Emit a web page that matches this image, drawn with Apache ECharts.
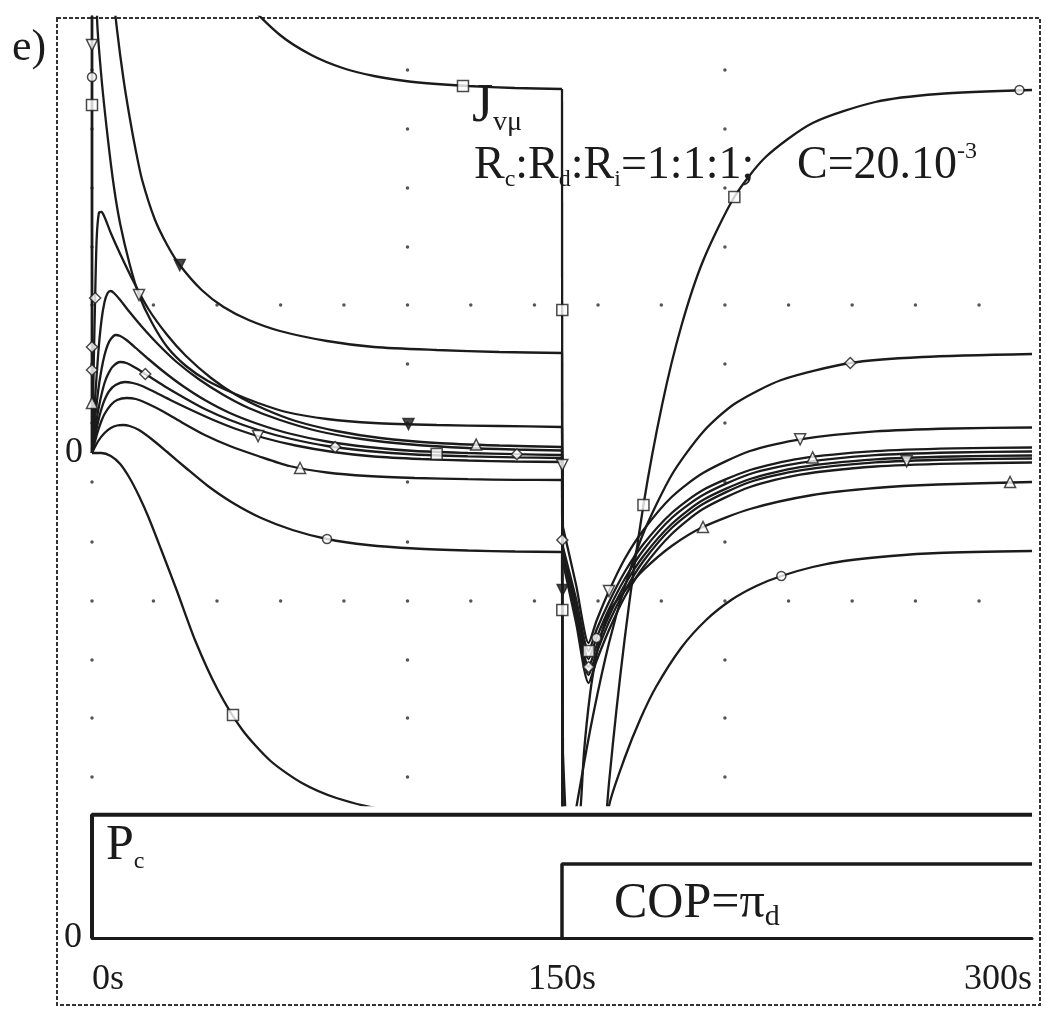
<!DOCTYPE html>
<html>
<head>
<meta charset="utf-8">
<title>e) Jvμ</title>
<script src="https://cdn.jsdelivr.net/npm/echarts@6/dist/echarts.min.js"></script>
<style>
  html, body { margin: 0; padding: 0; background: #fff; }
  #chart { width: 1046px; height: 1009px; }
</style>
</head>
<body>
<div id="chart"></div>
<script>
// dotted reference grid (time in s, response in plot units)
const dotCols = [0, 19.6, 39.9, 60.2, 80.4, 100.7, 120.9, 141.2, 161.5, 181.7, 202.0, 222.3, 242.6, 262.8, 283.1]
const dotRows = [38.3, 32.4, 26.5, 20.6, 14.8, 8.9, 3.0, -2.9, -8.9, -14.8, -20.7, -26.5, -32.4]
const majorCols = [0, 100.7, 202.0]
const majorRows = [14.8, -14.8]

// J_vμ responses, [t, value]; Pc switched on at 0 s, COP = πd at 150 s
const jTop = [[0,0],[0,200],[20,69.3],[30,57.5],[40,49.8],[50,44.9],[60,41.8],[70,39.8],[80,38.5],[90,37.7],[100,37.2],[110,36.9],[120,36.7],[135,36.5],[150,36.4],
  [150.2,-60],[160,-51.2],[165,-33.0],[170,-18.6],[176,-5.2],[182,4.9],[188,12.6],[195,19.2],[205,25.6],[215,29.6],[230,33.0],[250,35.1],[270,35.9],[300,36.3]]
const jHigh = [[0,0],[0,200],[2,67],[4,56],[6,48.3],[8,42.3],[10,37.5],[12,33.6],[14,30.2],[16,27.3],[20,23.4],[24,20.8],[28,18.8],[35,16.3],[42,14.6],[50,13.3],[60,12.2],[75,11.2],[90,10.6],[110,10.3],[130,10.1],[150,10.0],
  [150.2,-60],[153,-38.9],[156,-32.9],[160,-26.1],[165,-19.0],[170,-13.4],[176,-8.0],[185,-2.2],[195,2.1],[205,4.9],[220,7.3],[242,9.0],[265,9.6],[300,9.9]]
const jMid = [[0,0],[0,200],[1,70],[1.6,43.6],[3,37.6],[5,31.6],[7,26.6],[9,22.9],[12,18.9],[15,15.8],[19,13.1],[24,10.6],[30,8.7],[37,7.2],[45,6.0],[53,5.0],[62,4.1],[75,3.4],[90,3.0],[110,2.8],[130,2.7],[150,2.6],
  [150.3,-7.4],[154.5,-13.2],[158.5,-19],[161,-16.8],[165,-13.8],[170,-10.6],[176,-7.7],[185,-4.4],[195,-2.0],[210,0.2],[226,1.37],[250,2.16],[275,2.45],[300,2.55]]
const jBump1 = [[0,0],[0.5,8],[1,15.5],[1.5,21.5],[2.2,24.0],[3,24.1],[4,23.6],[6,22.0],[9,19.9],[13,17.3],[18,14.4],[24,11.8],[30,9.7],[38,7.5],[46,5.8],[55,4.4],[65,3.2],[78,2.2],[92,1.5],[110,1.0],[130,0.75],[150,0.6],
  [150.3,-9.4],[154.5,-14.6],[158.5,-19.8],[161,-17.7],[165,-14.9],[170,-11.9],[176,-9.1],[185,-6.0],[195,-3.7],[210,-1.7],[226,-0.56],[250,0.18],[275,0.46],[300,0.55]]
const jBump2 = [[0,0],[1,5.5],[2,10],[3,13.2],[4,15.1],[5,16.0],[6,16.2],[7,16.0],[9,15.3],[12,14.1],[16,12.6],[21,10.9],[27,9.1],[34,7.4],[42,5.8],[50,4.5],[60,3.3],[72,2.2],[86,1.4],[102,0.85],[120,0.5],[135,0.35],[150,0.25],
  [150.3,-9.8],[154.5,-15.2],[158.5,-20.6],[161,-18.5],[165,-15.6],[170,-12.6],[176,-9.7],[185,-6.5],[195,-4.2],[210,-2.1],[226,-0.99],[250,-0.22],[275,0.05],[300,0.15]]
const jBump3 = [[0,0],[1,3.5],[2,6.3],[3,8.3],[4,9.8],[5,10.8],[6,11.4],[7.5,11.8],[9,11.7],[11,11.3],[14,10.5],[18,9.4],[23,8.1],[29,6.7],[36,5.3],[44,4.0],[53,2.9],[63,1.95],[75,1.15],[88,0.6],[103,0.2],[120,0],[135,-0.12],[150,-0.2],
  [150.3,-10.2],[154.5,-15.8],[158.5,-21.4],[161,-19.3],[165,-16.3],[170,-13.2],[176,-10.3],[185,-7.1],[195,-4.7],[210,-2.6],[226,-1.41],[250,-0.63],[275,-0.35],[300,-0.25]]
const jBump4 = [[0,0],[1,2.3],[2,4.3],[3,5.8],[4,7.0],[5,7.8],[6.5,8.6],[9,9.1],[11,9.0],[14,8.5],[18,7.7],[23,6.7],[29,5.6],[36,4.4],[44,3.3],[53,2.3],[63,1.45],[75,0.7],[88,0.2],[103,-0.15],[120,-0.33],[135,-0.43],[150,-0.5],
  [150.3,-10.5],[154.5,-16.4],[158.5,-22.2],[161,-20.0],[165,-16.9],[170,-13.8],[176,-10.8],[185,-7.5],[195,-5.1],[210,-2.9],[226,-1.74],[250,-0.94],[275,-0.65],[300,-0.55]]
const jBump5 = [[0,0],[1,1.7],[2,3.2],[3,4.4],[4,5.3],[5.5,6.2],[7.5,6.8],[10.5,7.1],[13,7.0],[16,6.7],[20,6.1],[25,5.3],[31,4.4],[38,3.4],[46,2.4],[55,1.5],[65,0.75],[77,0.1],[90,-0.35],[105,-0.6],[120,-0.75],[135,-0.85],[150,-0.9],
  [150.3,-10.9],[154.5,-17.0],[158.5,-23],[161,-20.8],[165,-17.7],[170,-14.4],[176,-11.4],[185,-8.1],[195,-5.6],[210,-3.4],[226,-2.16],[250,-1.35],[275,-1.06],[300,-0.95]]
const jLow = [[0,0],[1,1.2],[2,2.3],[3,3.2],[4,3.9],[6,4.8],[8,5.3],[11,5.5],[14,5.4],[18,4.9],[23,4.1],[29,3.0],[36,1.8],[44,0.7],[53,-0.3],[63,-1.3],[75,-1.95],[88,-2.3],[103,-2.5],[120,-2.62],[135,-2.68],[150,-2.7],
  [150.3,-30],[153,-45],[156,-35.2],[157,-30],[159,-24],[161,-20.2],[163,-17.6],[165.3,-15.7],[170,-13.8],[176,-11.7],[185,-9.3],[195,-7.4],[210,-5.6],[230,-4.2],[250,-3.5],[270,-3.15],[300,-2.9]]
const jLower = [[0,0],[2,1.2],[4,2.0],[6,2.5],[8,2.75],[10,2.8],[12,2.7],[15,2.3],[19,1.4],[24,0.1],[30,-1.5],[37,-3.3],[45,-5.0],[54,-6.5],[64,-7.7],[75,-8.6],[88,-9.2],[103,-9.55],[120,-9.75],[135,-9.85],[150,-9.9],
  [150.2,-40],[158,-50],[165,-35.3],[170,-30.5],[175,-26.6],[180,-23.4],[188,-19.5],[196,-16.7],[204,-14.7],[212,-13.3],[220,-12.3],[230,-11.4],[240,-10.8],[255,-10.3],[270,-10.0],[300,-9.8]]
const jBottom = [[0,0],[3,0],[6,-0.3],[9,-1.1],[12,-2.5],[15,-4.3],[18,-6.4],[22,-9.6],[27,-13.7],[33,-18.8],[40,-23.6],[48,-27.7],[57,-30.8],[67,-33.0],[78,-34.5],[92,-35.6],[110,-36.3],[130,-36.7],[150,-37]]

// marker positions along the curves
const markSquare = [[0,34.8],[118.4,36.7],[110,-0.1],[45,-26.2],[150.1,14.3],[150.1,-15.7],[176,-5.2],[205,25.6],[158.5,-19.8]]
const markCircle = [[0,37.6],[75,-8.6],[296,36.3],[220,-12.3],[161,-18.5]]
const markDiamond = [[77.6,0.6],[135.6,-0.13],[17,7.9],[0,8.3],[0,10.6],[150.1,-8.7],[242,9.0],[1,15.5],[158.5,-21.4]]
const markTriUp = [[122.6,0.84],[66.4,-1.5],[230,-0.44],[293,-2.9],[195,-7.4],[0,5.0]]
const markTriDown = [[0,40.8],[15,15.8],[53,1.7],[226,1.37],[260,-0.82],[150.1,-1.2],[165,-13.8]]
const markTriDownSolid = [[28,18.8],[101,2.9],[150.2,-13.7]]

// lower panel: steps
const pcSignal = [[0,0],[0,1],[300,1]]
const copSignal = [[150,0],[150,0.6],[300,0.6]]

const FONT = 'Liberation Serif'
const INK = '#1b1b1b'
const TRI_DOWN = 'path://M0,0L10,0L5,9Z'

const chart = echarts.init(document.getElementById('chart'))

const dots = []
dotRows.forEach(y => dotCols.forEach(t => {
  if (majorCols.includes(t) || majorRows.includes(y)) dots.push([t, y])
}))

// a curve is drawn smooth between its jumps; the jumps themselves stay straight
function curve(data) {
  const out = []
  const base = { type: 'line', xAxisIndex: 0, yAxisIndex: 0, showSymbol: false, lineStyle: { color: INK, width: 2.3 }, z: 3, silent: true }
  let run = [data[0]]
  for (let i = 1; i < data.length; i++) {
    if (data[i][0] - data[i - 1][0] < 0.5) {
      if (run.length > 1) out.push({ ...base, data: run, smooth: 0.25 })
      out.push({ ...base, data: [data[i - 1], data[i]] })
      run = [data[i]]
    } else {
      run.push(data[i])
    }
  }
  if (run.length > 1) out.push({ ...base, data: run, smooth: 0.25 })
  return out
}
function markers(data, symbol, size, solid) {
  return {
    type: 'scatter', xAxisIndex: 0, yAxisIndex: 0, data, symbol, symbolSize: size,
    itemStyle: { color: solid ? INK : '#fff', borderColor: INK, borderWidth: 1.5 }, z: 5, silent: true,
  }
}
function step(data, width) {
  return {
    type: 'line', xAxisIndex: 1, yAxisIndex: 1, data, showSymbol: false,
    lineStyle: { color: INK, width }, z: 3, silent: true,
  }
}
function richText(x, y, text, rich) {
  return { type: 'text', x, y, z: 10, silent: true, style: { text, fill: INK, rich } }
}

const zeroOnly = v => (v === 0 ? '0' : '')
const main = size => ({ fontFamily: FONT, fontSize: size, lineHeight: size + 6 })
const sub = size => ({ fontFamily: FONT, fontSize: size, lineHeight: size, verticalAlign: 'bottom' })
const sup = size => ({ fontFamily: FONT, fontSize: size, lineHeight: size, verticalAlign: 'top' })

chart.setOption({
  animation: false,
  backgroundColor: '#fff',
  grid: [
    { left: 92, top: 17, width: 940, height: 788 },
    { left: 92, top: 790, width: 940, height: 148 },
  ],
  xAxis: [
    { type: 'value', gridIndex: 0, min: 0, max: 300, show: false },
    {
      type: 'value', gridIndex: 1, min: 0, max: 300, interval: 150,
      axisLine: { lineStyle: { color: INK, width: 3 } },
      axisTick: { show: false }, splitLine: { show: false },
      axisLabel: {
        formatter: v => v + 's', color: INK, fontFamily: FONT, fontSize: 36,
        margin: 24, alignMinLabel: 'left', alignMaxLabel: 'right',
      },
    },
  ],
  yAxis: [
    {
      type: 'value', gridIndex: 0, min: -35.2, max: 43.6,
      axisLine: { show: false }, axisTick: { show: false }, splitLine: { show: false },
      axisLabel: { formatter: zeroOnly, color: INK, fontFamily: FONT, fontSize: 36, margin: 9, padding: [0, 0, 20, 0] },
    },
    {
      type: 'value', gridIndex: 1, min: 0, max: 1.2,
      axisLine: { show: false }, axisTick: { show: false }, splitLine: { show: false },
      axisLabel: { formatter: zeroOnly, color: INK, fontFamily: FONT, fontSize: 36, margin: 10, padding: [0, 0, 17, 0] },
    },
  ],
  series: [
    { type: 'scatter', xAxisIndex: 0, yAxisIndex: 0, data: dots, symbol: 'circle', symbolSize: 3.5, itemStyle: { color: '#2a2a2a' }, z: 1, silent: true },
    ...curve(jTop), ...curve(jHigh), ...curve(jMid),
    ...curve(jBump1), ...curve(jBump2), ...curve(jBump3), ...curve(jBump4), ...curve(jBump5),
    ...curve(jLow), ...curve(jLower), ...curve(jBottom),
    markers(markSquare, 'rect', 11, false),
    markers(markCircle, 'circle', 9, false),
    markers(markDiamond, 'diamond', 11, false),
    markers(markTriUp, 'triangle', 11, false),
    markers(markTriDown, TRI_DOWN, 11, false),
    markers(markTriDownSolid, TRI_DOWN, 11, true),
    step(pcSignal, 4),
    step(copSignal, 3.5),
  ],
  graphic: [
    { type: 'rect', shape: { x: 57, y: 18, width: 983, height: 987 }, style: { fill: 'none', stroke: '#333', lineWidth: 2, lineDash: [4, 2] }, z: 0, silent: true },
    { type: 'text', x: 12, y: 26, z: 10, silent: true, style: { text: 'e)', font: '44px "Liberation Serif"', fill: INK } },
    richText(472, 77, '{b|J}{s|vμ}', { b: main(54), s: sub(28) }),
    richText(474, 140, '{b|R}{s|c}{b|:R}{s|d}{b|:R}{s|i}{b|=1:1:1;}', { b: main(46), s: sub(24) }),
    richText(797, 140, '{b|C=20.10}{p|-3}', { b: main(46), p: sup(24) }),
    richText(106, 818, '{b|P}{s|c}', { b: main(50), s: sub(24) }),
    richText(614, 876, '{b|COP=π}{s|d}', { b: main(50), s: sub(30) }),
  ],
})
</script>
</body>
</html>
